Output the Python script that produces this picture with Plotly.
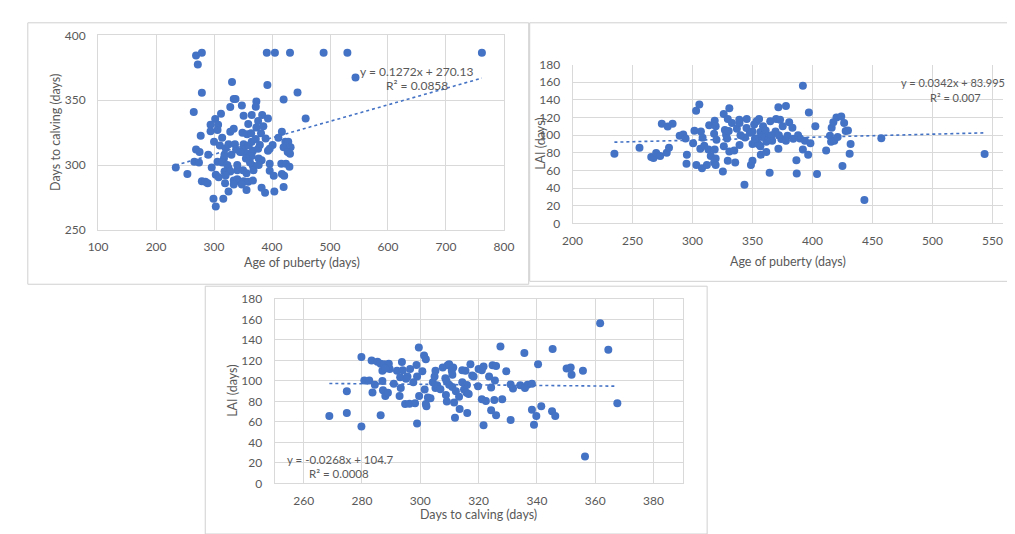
import plotly.graph_objects as go

W, H = 1015, 534

# ---------------- Panel 1: Age of puberty vs Days to calving ----------------
p1_age = [269, 279, 391, 405, 431, 489, 530, 762, 272, 544, 331, 392, 279, 444, 334, 337,
          373, 420, 265, 348, 328, 372, 458, 312, 302, 294, 307, 351, 365, 383, 376, 393,
          359, 373, 334, 328, 294, 306, 349, 357, 364, 381, 417, 277, 314, 389, 411, 300,
          310, 320, 325, 336, 351, 365, 379, 401, 423, 428, 420, 432, 427, 431, 269, 275,
          348, 351, 357, 367, 376, 393, 396, 290, 317, 365, 377, 382, 266, 274, 306, 314,
          323, 396, 416, 424, 430, 367, 377, 296, 325, 340, 318, 328, 396, 356, 234, 254,
          303, 308, 320, 403, 417, 421, 279, 285, 289, 319, 334, 340, 345, 351, 359, 367,
          348, 334, 356, 382, 388, 420, 404, 325, 299, 316, 303, 345, 360, 372, 385, 340,
          350, 362, 368, 355, 318, 330, 338]
p1_dtc = [384.5, 386.7, 386.7, 386.7, 386.7, 386.7, 386.7, 386.7, 377.5, 367.5, 364, 361.7,
          355.7, 356, 351, 351, 349, 350.5, 341, 346, 344.7, 345, 336, 339.5, 335.5, 331,
          331, 338, 338.7, 338.7, 334, 336, 331.7, 329, 328, 325.7, 326, 327, 325, 323.7,
          324.5, 324.5, 325.7, 322.5, 321, 320.5, 321, 318, 315, 313, 316, 316, 316, 318,
          315.5, 315.5, 318, 318, 313.7, 313.7, 310, 308.7, 312, 310, 310, 312, 308.7, 311,
          312.5, 311, 312.5, 308, 305, 307, 305, 303.7, 302.5, 302, 302.5, 302, 300, 301,
          301, 301, 298.7, 299.5, 300, 298, 297.5, 296, 295, 295, 295.5, 293.7, 298, 293,
          292.5, 290.5, 292, 291.7, 293, 291.7, 287.5, 287, 286, 286, 288, 289, 287, 287.5,
          287, 288, 285, 285, 280.7, 282.5, 278.7, 283, 279.5, 279.5, 274, 274, 268, 310,
          315, 320, 330, 300, 296, 302, 296, 305, 308, 308, 312]
p1_slope, p1_intercept = 0.1272, 270.13
p1_eq = "y = 0.1272x + 270.13"
p1_r2 = "R² = 0.0858"

# ---------------- Panel 2: Age of puberty vs LAI ----------------
p2_age = [234.9, 255.8, 265.6, 267.5, 269.7, 273, 274.4, 279.3, 283.4, 278.5, 280.4, 289.3,
          292.3, 294.2, 295.3, 295, 300.5, 301.6, 303, 305.7, 303.2, 307.9, 306.5, 307, 308.4,
          309.8, 312, 313.3, 313.9, 315.2, 318.5, 319.3, 318, 320, 318.5, 319.3, 318, 319.3,
          325.3, 326.1, 326, 327, 328, 328.8, 329.4, 330.7, 330.2, 330.7, 329.4, 332.9, 334.8,
          335.6, 337, 339.2, 339, 339.2, 343.3, 343.8, 345.2, 347.9, 348.7, 350, 350, 351.4,
          353.4, 355.5, 356.6, 353.4, 354.7, 356.6, 356.9, 358.8, 360.2, 361, 361.5, 361.5,
          364.3, 364.8, 366.4, 369.2, 369.7, 371.6, 371.6, 373, 374, 375.2, 377.9, 377.9,
          379.2, 380.6, 383.3, 386.6, 386.9, 389.6, 392, 392, 393.7, 396.4, 397, 398.3, 402.4,
          403.8, 411.4, 414.6, 415.5, 416, 417.4, 418.2, 420, 421, 424, 425, 426.4, 427.7,
          429.6, 431.8, 431, 443.3, 457.4, 543.5, 352, 358, 364, 366, 340, 345, 350, 384, 388,
          372]
p2_lai = [79, 85.6, 75.3, 74.2, 79.7, 76.4, 112.8, 109.8, 112.8, 80, 85.6, 99.2, 100.6, 96.2,
          77.9, 67.6, 90.7, 105, 127.8, 134.8, 66.1, 62.4, 84.5, 104, 97, 88, 66.1, 83.7, 111.3,
          76.4, 116.4, 110.2, 101.7, 94.8, 83.7, 73.5, 69, 66.1, 58.8, 87.4, 124, 105.8, 100.3,
          96.2, 118.3, 130.4, 104.7, 81.5, 70.9, 113.9, 82.6, 69, 107.3, 113.9, 117.5, 88.9,
          43.7, 97.3, 118.3, 102.8, 66.1, 70.9, 90, 112, 115.7, 118.3, 103.6, 96.2, 90, 87.4,
          77.9, 110.2, 101, 105.4, 92.6, 80.8, 57.3, 115.7, 93.7, 104, 118.3, 131.5, 84.5,
          117.5, 95.5, 110.2, 133, 93.7, 99.2, 114.6, 108.4, 71.6, 56.6, 96.2, 156, 83.7, 93.7,
          77.9, 125.6, 90.7, 110.2, 55.8, 82.6, 99.2, 92.6, 108.4, 114.6, 93.7, 120, 98, 121.2,
          65, 113.9, 104.7, 105.4, 90, 79, 26.4, 96.6, 78.6, 96, 98, 95, 100, 100, 108, 104, 96,
          100, 100]
p2_slope, p2_intercept = 0.0342, 83.995
p2_eq = "y = 0.0342x + 83.995"
p2_r2 = "R² = 0.007"

# ---------------- Panel 3: Days to calving vs LAI ----------------
p3_dtc = [268.8, 274.8, 274.8, 279.8, 279.8, 280.8, 282.5, 283.3, 283.6, 284.4, 285.3, 286.4,
          286.4, 287, 287, 287.2, 287.7, 288, 288.4, 288.9, 289.2, 289.5, 290.9, 292, 292.9,
          293.1, 293.3, 293.7, 294, 294.8, 295.1, 295.6, 296.3, 296.5, 297.6, 298.2, 298.7,
          298.9, 298.9, 299.5, 299.6, 300.7, 301.3, 301.5, 301.9, 301.9, 302.1, 302.6, 303.5,
          304.3, 304.9, 305.2, 305.2, 305.8, 306.9, 307.7, 308.6, 308.8, 309.1, 309.4, 309.9,
          309.9, 310.8, 311, 311.3, 311.6, 311.9, 312.2, 313.3, 313.5, 314.4, 314.4, 315, 315.5,
          315.9, 316.1, 316.6, 317.2, 317.8, 318.3, 319.8, 320, 321.1, 321.1, 321.7, 321.7,
          322.5, 323.6, 324.3, 324.3, 324.8, 325.4, 325.6, 326, 326, 327.5, 328.1, 329.5, 331,
          331, 331.8, 334.3, 335.7, 335.9, 336.8, 338.3, 338.3, 339, 339.8, 340.4, 341.5, 345.2,
          345.4, 346.3, 350.2, 351.6, 351.9, 355.8, 356.5, 361.7, 364.5, 367.6, 289, 288, 309,
          311, 316]
p3_lai = [65.7, 90, 68.8, 123.2, 55.6, 100.4, 100.4, 120, 88.7, 96.3, 118.7, 116.8, 66.6,
          109.9, 99.8, 91, 116.2, 85.3, 113, 88.4, 116.8, 111.5, 97.3, 109.9, 85.3, 103.6, 93.2,
          118.4, 110.5, 77.4, 102, 104.2, 77.7, 111.5, 98.8, 78.3, 115.6, 104.2, 58.4, 132.6,
          85.3, 109.3, 124.7, 91.6, 121, 77.4, 75.2, 83.7, 83, 98.8, 104.2, 109.9, 93.2, 95.7,
          91.9, 113, 102.6, 86.2, 79.9, 115.3, 116.2, 96.3, 109.9, 94.1, 113, 78.9, 64.1, 90,
          84.6, 72.6, 110.5, 98.8, 91.6, 109.9, 88.4, 68.8, 87.2, 116.2, 105.2, 104.2, 94.7,
          111.5, 110.5, 82.1, 114, 56.8, 80.5, 104.2, 93.5, 71.4, 115.3, 81.5, 100.4, 114.6,
          66.6, 133.6, 82.1, 109.3, 96.6, 61.9, 92.5, 95.7, 127.3, 93.2, 96.3, 97.3, 72, 57.2,
          65.7, 116.2, 75.2, 70.4, 131, 65.7, 112.1, 113, 106.1, 109.9, 26.2, 156.3, 130.4,
          78.3, 114, 112, 100, 106, 96]
p3_slope, p3_intercept = -0.0268, 104.7
p3_eq = "y = -0.0268x + 104.7"
p3_r2 = "R² = 0.0008"

BLUE = "#4472C4"
GRID = "#d9d9d9"
TXT = "#595959"
FONT = "Lato, Noto Sans, sans-serif"


def px(x):
    return x / W


def py(y):
    return 1 - y / H


fig = go.Figure()

panels = [
    dict(x=p1_age, y=p1_dtc, m=p1_slope, b=p1_intercept, xa="x", ya="y"),
    dict(x=p2_age, y=p2_lai, m=p2_slope, b=p2_intercept, xa="x2", ya="y2"),
    dict(x=p3_dtc, y=p3_lai, m=p3_slope, b=p3_intercept, xa="x3", ya="y3"),
]
for p in panels:
    fig.add_trace(go.Scatter(x=p["x"], y=p["y"], mode="markers", xaxis=p["xa"], yaxis=p["ya"],
                             marker=dict(color=BLUE, size=8, line=dict(width=0)),
                             showlegend=False, hoverinfo="x+y"))
    x0, x1 = min(p["x"]), max(p["x"])
    fig.add_trace(go.Scatter(x=[x0, x1], y=[p["m"] * x0 + p["b"], p["m"] * x1 + p["b"]],
                             mode="lines", xaxis=p["xa"], yaxis=p["ya"],
                             line=dict(color=BLUE, width=1.6, dash="dot"),
                             showlegend=False, hoverinfo="skip"))

tickfont = dict(family=FONT, size=12, color=TXT)
common = dict(showgrid=True, gridcolor=GRID, gridwidth=1, zeroline=False,
              tickfont=tickfont, ticks="", fixedrange=True)
xc = dict(ticklabelstandoff=6, **common)
yc = dict(ticklabelstandoff=9, **common)

fig.update_layout(
    width=W, height=H, autosize=False,
    margin=dict(l=0, r=0, t=0, b=0),
    paper_bgcolor="white", plot_bgcolor="white",
    font=dict(family=FONT, color=TXT),
    xaxis=dict(domain=[px(81.7), px(495.7)], range=[100, 800], dtick=100, anchor="y",
               showline=True, linecolor=GRID, mirror=True, **xc),
    yaxis=dict(domain=[py(220), py(20)], range=[250, 400], dtick=50, anchor="x",
               showline=True, linecolor=GRID, mirror=True, **yc),
    xaxis2=dict(domain=[px(565.7), px(1005)], range=[200, 559], dtick=50, anchor="y2",
                showline=True, linecolor=GRID, **xc),
    yaxis2=dict(domain=[py(213.3), py(50)], range=[0, 180], dtick=20, anchor="x2",
                showline=True, linecolor=GRID, **yc),
    xaxis3=dict(domain=[px(261.7), px(678)], range=[250, 390], dtick=20, anchor="y3",
                showline=True, linecolor=GRID, mirror=True, **xc),
    yaxis3=dict(domain=[py(481), py(291)], range=[0, 180], dtick=20, anchor="x3",
                showline=True, linecolor=GRID, mirror=True, **yc),
)

# panel borders
for (x0, y0, x1, y1) in [(10, 7, 521, 276), (522, 7, 1014, 273), (191, 278, 703, 533)]:
    fig.add_shape(type="rect", xref="paper", yref="paper",
                  x0=px(x0), x1=px(x1), y0=py(y1), y1=py(y0),
                  line=dict(color="#d0d0d0", width=1), fillcolor="rgba(0,0,0,0)", layer="below")

ann_font = dict(family=FONT, size=12, color=TXT)
ann_font2 = dict(family=FONT, size=11, color=TXT)
ann_font3 = dict(family=FONT, size=11.5, color=TXT)
title_font = dict(family=FONT, size=12.5, color=TXT)
annots = [
    (407, 57, p1_eq, 0, ann_font, "center"), (407, 72, p1_r2, 0, ann_font, "center"),
    (1009, 68, p2_eq, 0, ann_font2, "right"), (984, 84, p2_r2, 0, ann_font2, "right"),
    (272, 456, p3_eq, 0, ann_font3, "left"), (295, 471, p3_r2, 0, ann_font3, "left"),
    (290, 254, "Age of puberty (days)", 0, title_font, "center"),
    (785, 253, "Age of puberty (days)", 0, title_font, "center"),
    (470, 513, "Days to calving (days)", 0, title_font, "center"),
    (38, 120, "Days to calving (days)", -90, title_font, "center"),
    (533, 131, "LAI (days)", -90, title_font, "center"),
    (218, 386, "LAI (days)", -90, title_font, "center"),
]
for (x, y, t, ang, f, xa) in annots:
    fig.add_annotation(x=px(x), y=py(y), xref="paper", yref="paper", text=t, showarrow=False,
                       textangle=ang, font=f, xanchor=xa, yanchor="middle")

fig.write_html("out.html")
